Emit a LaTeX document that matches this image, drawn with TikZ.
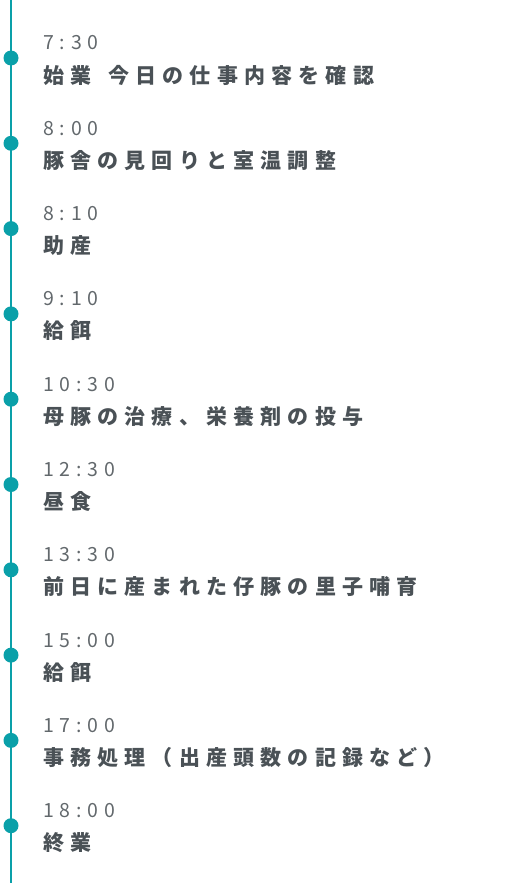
\documentclass[tikz,border=0pt]{standalone}
\usepackage{fontspec}
\newfontfamily\jpfont[LetterSpace=29.5]{Noto Sans CJK JP}
\newfontfamily\timefont[LetterSpace=30]{Noto Sans CJK JP}
\definecolor{lineteal}{HTML}{0AA0A9}
\definecolor{textgray}{HTML}{4A5156}
\definecolor{timegray}{HTML}{62686C}
\tikzset{
	dot/.style={circle, fill=lineteal, inner sep=0pt, minimum size=15pt},
	timelabel/.style={anchor=base west, inner sep=0pt, text=timegray, font=\timefont\fontsize{19.5}{19.5}\selectfont},
	tasklabel/.style={anchor=base west, inner sep=0pt, text=textgray, font=\jpfont\bfseries\fontsize{21}{21}\selectfont}
}
\begin{document}
\begin{tikzpicture}[x=1pt,y=1pt]
	\useasboundingbox (0,0) rectangle (530,-883);
	\coordinate (top) at (11,0);
	\coordinate (bottom) at (11,-883);
	\draw [lineteal, line width=1.4pt] (top) -- (bottom);
	\foreach \tm/\txt [count=\i] in {7:30/始業\hspace{17pt}今日の仕事内容を確認, 8:00/豚舎の見回りと室温調整, 8:10/助産, 9:10/給餌, 10:30/母豚の治療、栄養剤の投与, 12:30/昼食, 13:30/前日に産まれた仔豚の里子哺育, 15:00/給餌, 17:00/事務処理（出産頭数の記録など）, 18:00/終業}{
		\node [dot] (d\i) at (11,{-58-85.3*(\i-1)}) {};
		\node [timelabel] (t\i) at (43,{-50-85.3*(\i-1)}) {\tm};
		\node [tasklabel] (s\i) at (43,{-83-85.3*(\i-1)}) {\txt};
	}
\end{tikzpicture}
\end{document}
